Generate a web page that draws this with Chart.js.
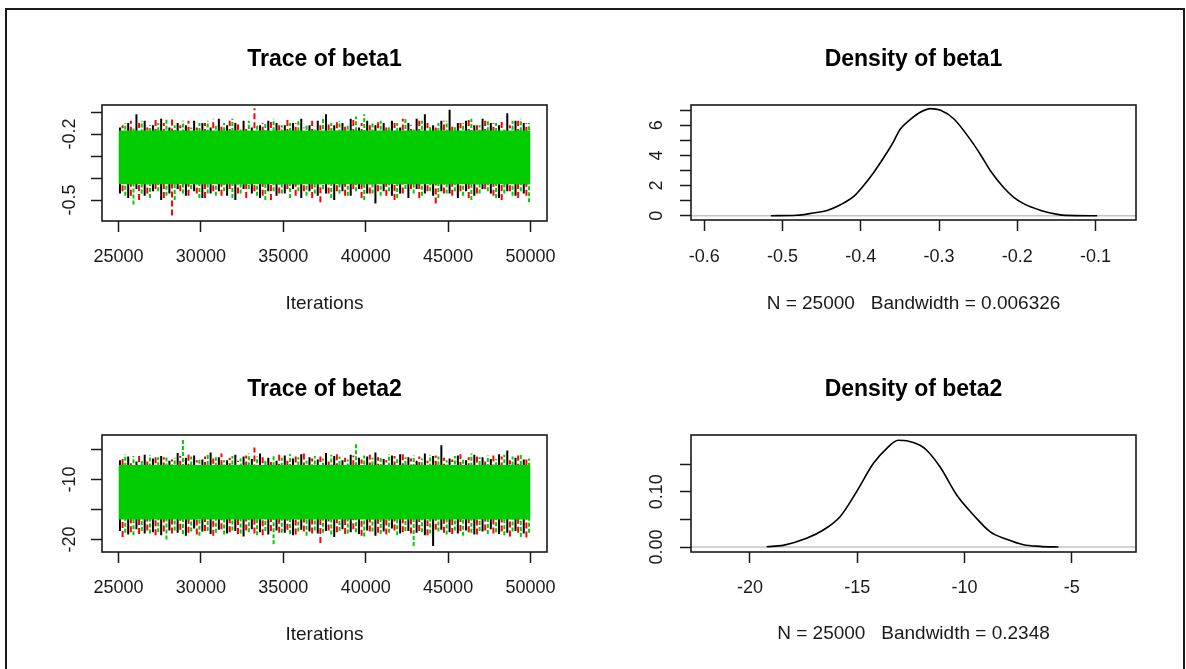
<!DOCTYPE html>
<html>
<head>
<meta charset="utf-8">
<title>MCMC trace and density plots</title>
<script src="https://cdn.jsdelivr.net/npm/chart.js@4"></script>
<style>
  html, body { margin: 0; padding: 0; background: #fff; overflow: hidden; width: 1186px; height: 669px; }
  #frame { position: absolute; left: 5px; top: 8px; width: 1180px; height: 700px; box-sizing: border-box;
           border: 2px solid #1a1a1a; border-bottom: none; }
  canvas { position: absolute; }
</style>
</head>
<body>
<div id="frame"></div>
<canvas id="traceBeta1"></canvas>
<canvas id="densBeta1"></canvas>
<canvas id="traceBeta2"></canvas>
<canvas id="densBeta2"></canvas>
<script>
// ---------------- data ----------------
const iterRange = [25000, 50000];          // kept iterations (after burn-in)
const binWidth = 500;                      // iterations per spike bin
const traceXTicks = [25000, 30000, 35000, 40000, 45000, 50000];
const traceXLabels = ['25000', '30000', '35000', '40000', '45000', '50000'];

// beta1: dense core of the three chains, then per-bin extremes for each chain
const beta1Core = [-0.428, -0.184];
const beta1BlackHigh = [-0.17,-0.15,-0.11,-0.14,-0.16,-0.13,-0.17,-0.15,-0.16,-0.14,
                        -0.15,-0.17,-0.13,-0.16,-0.15,-0.14,-0.17,-0.16,-0.14,-0.15,
                        -0.16,-0.15,-0.13,-0.16,-0.14,-0.11,-0.16,-0.15,-0.13,-0.17,
                        -0.14,-0.16,-0.15,-0.14,-0.17,-0.15,-0.13,-0.11,-0.16,-0.14,
                        -0.09,-0.15,-0.14,-0.16,-0.13,-0.15,-0.16,-0.105,-0.14,-0.15];
const beta1BlackLow  = [-0.47,-0.49,-0.45,-0.48,-0.46,-0.50,-0.47,-0.45,-0.48,-0.46,
                        -0.49,-0.47,-0.46,-0.48,-0.50,-0.45,-0.47,-0.49,-0.46,-0.48,
                        -0.47,-0.45,-0.49,-0.46,-0.48,-0.47,-0.50,-0.46,-0.48,-0.45,
                        -0.47,-0.515,-0.46,-0.48,-0.47,-0.49,-0.45,-0.47,-0.48,-0.46,
                        -0.47,-0.49,-0.46,-0.48,-0.45,-0.47,-0.49,-0.46,-0.48,-0.47];
const beta1RedHigh   = [-0.16,-0.14,-0.15,-0.17,-0.13,-0.15,-0.12,-0.16,-0.14,-0.17,
                        -0.15,-0.13,-0.16,-0.14,-0.15,-0.17,-0.083,-0.15,-0.14,-0.16,
                        -0.13,-0.15,-0.17,-0.14,-0.16,-0.15,-0.14,-0.16,-0.13,-0.15,
                        -0.16,-0.14,-0.17,-0.15,-0.13,-0.16,-0.14,-0.15,-0.17,-0.14,
                        -0.16,-0.15,-0.13,-0.16,-0.14,-0.15,-0.13,-0.16,-0.14,-0.15];
const beta1RedLow    = [-0.46,-0.48,-0.50,-0.47,-0.45,-0.49,-0.57,-0.46,-0.48,-0.47,
                        -0.49,-0.46,-0.48,-0.45,-0.47,-0.49,-0.46,-0.48,-0.50,-0.47,
                        -0.45,-0.48,-0.46,-0.49,-0.51,-0.47,-0.46,-0.48,-0.45,-0.49,
                        -0.47,-0.46,-0.48,-0.50,-0.47,-0.45,-0.49,-0.46,-0.515,-0.47,
                        -0.48,-0.46,-0.49,-0.47,-0.45,-0.48,-0.50,-0.46,-0.49,-0.48];
const beta1GreenHigh = [-0.15,-0.17,-0.14,-0.16,-0.15,-0.13,-0.16,-0.14,-0.17,-0.15,
                        -0.14,-0.16,-0.15,-0.13,-0.17,-0.14,-0.16,-0.15,-0.13,-0.16,
                        -0.15,-0.14,-0.16,-0.17,-0.13,-0.15,-0.14,-0.16,-0.12,-0.11,
                        -0.15,-0.14,-0.16,-0.15,-0.13,-0.17,-0.14,-0.16,-0.15,-0.14,
                        -0.16,-0.15,-0.13,-0.16,-0.14,-0.15,-0.17,-0.14,-0.13,-0.15];
const beta1GreenLow  = [-0.48,-0.52,-0.47,-0.49,-0.46,-0.48,-0.50,-0.47,-0.45,-0.49,
                        -0.47,-0.48,-0.46,-0.49,-0.47,-0.45,-0.48,-0.50,-0.46,-0.47,
                        -0.49,-0.46,-0.48,-0.47,-0.45,-0.49,-0.47,-0.48,-0.46,-0.50,
                        -0.47,-0.48,-0.46,-0.49,-0.45,-0.47,-0.48,-0.46,-0.49,-0.47,
                        -0.46,-0.48,-0.50,-0.47,-0.46,-0.49,-0.47,-0.48,-0.46,-0.51];
const beta1TraceYTicks  = [-0.5, -0.4, -0.3, -0.2, -0.1];
const beta1TraceYLabels = ['-0.5', '', '', '-0.2', ''];

// beta2
const beta2Core = [-16.7, -7.6];
const beta2BlackHigh = [-6.8,-6.2,-7.0,-5.9,-6.5,-6.1,-6.9,-5.6,-6.4,-6.0,
                        -6.7,-5.5,-6.3,-6.8,-5.9,-6.2,-6.6,-5.7,-6.4,-6.9,
                        -6.0,-6.5,-5.8,-6.3,-6.7,-5.6,-6.1,-6.8,-5.9,-6.4,
                        -6.2,-5.5,-6.6,-6.0,-5.8,-6.3,-6.9,-5.7,-6.1,-4.3,
                        -6.5,-6.0,-6.8,-5.9,-6.3,-6.6,-5.8,-5.2,-6.4,-6.7];
const beta2BlackLow  = [-18.6,-19.2,-18.3,-19.0,-18.8,-19.3,-18.5,-18.9,-19.4,-18.2,
                        -18.7,-19.1,-18.4,-19.0,-18.6,-19.5,-18.3,-18.8,-19.2,-18.5,
                        -18.9,-19.3,-18.4,-18.7,-19.0,-18.6,-19.6,-18.3,-18.8,-19.1,
                        -18.5,-19.4,-18.7,-18.2,-19.0,-18.6,-18.9,-19.3,-21.1,-18.4,
                        -18.8,-19.0,-18.5,-19.2,-18.7,-18.3,-19.1,-18.9,-18.6,-19.0];
const beta2RedHigh   = [-6.5,-6.9,-6.0,-6.6,-5.8,-6.3,-6.7,-6.1,-5.9,-6.8,
                        -6.2,-6.5,-5.7,-6.4,-6.9,-6.0,-4.7,-6.3,-6.6,-5.9,
                        -6.8,-6.1,-5.6,-6.5,-6.2,-6.9,-5.8,-6.4,-6.0,-6.7,
                        -5.9,-6.3,-6.8,-6.1,-5.7,-6.5,-6.2,-6.9,-6.0,-6.4,
                        -6.7,-5.8,-6.3,-6.1,-6.6,-5.5,-6.2,-6.8,-6.0,-6.4];
const beta2RedLow    = [-19.6,-18.8,-19.1,-18.5,-19.3,-18.7,-19.0,-18.4,-18.9,-19.2,
                        -18.6,-19.4,-18.3,-18.8,-19.1,-18.5,-19.0,-19.3,-18.6,-18.9,
                        -18.4,-19.2,-18.7,-19.0,-20.6,-18.5,-18.8,-19.1,-18.3,-19.4,
                        -18.7,-18.9,-19.2,-18.5,-18.8,-19.0,-18.6,-19.3,-18.4,-18.9,
                        -19.1,-18.6,-18.8,-19.2,-18.5,-19.0,-18.7,-19.5,-18.9,-19.7];
const beta2GreenHigh = [-5.8,-6.1,-6.6,-5.9,-6.3,-6.0,-6.4,-3.4,-6.2,-6.7,
                        -5.9,-6.3,-6.8,-6.1,-6.5,-5.7,-6.2,-6.6,-6.0,-6.4,
                        -5.8,-6.3,-6.9,-6.1,-6.5,-5.9,-6.2,-6.7,-4.1,-6.0,
                        -6.4,-6.1,-5.8,-6.6,-6.3,-6.0,-6.5,-5.9,-6.2,-6.8,
                        -6.1,-6.4,-5.7,-6.3,-6.0,-6.6,-5.9,-6.2,-5.6,-6.5];
const beta2GreenLow  = [-18.9,-19.3,-18.6,-19.0,-18.8,-20.0,-18.5,-19.1,-18.7,-19.4,
                        -18.6,-18.9,-19.2,-18.5,-19.0,-18.8,-19.3,-18.6,-20.8,-18.9,
                        -19.1,-18.7,-19.4,-18.5,-18.9,-19.2,-18.6,-19.0,-18.8,-19.5,
                        -18.7,-19.1,-18.9,-19.3,-18.6,-21.1,-18.8,-19.0,-18.7,-19.2,
                        -18.5,-19.4,-18.9,-18.6,-19.1,-18.8,-19.3,-18.7,-19.6,-18.9];
const beta2TraceYTicks  = [-20, -15, -10, -5];
const beta2TraceYLabels = ['-20', '', '-10', ''];

// kernel density estimates
const beta1DensX = [-0.515,-0.482,-0.461,-0.443,-0.426,-0.409,-0.399,-0.384,-0.367,-0.358,-0.350,-0.337,-0.324,
                    -0.311,-0.298,-0.281,-0.260,-0.247,-0.234,-0.217,-0.205,-0.192,-0.170,-0.149,-0.138,-0.098];
const beta1DensY = [0,0.03,0.18,0.35,0.73,1.28,1.84,2.84,4.16,4.94,5.72,6.38,6.87,
                    7.11,7.00,6.42,5.05,4.05,2.95,1.84,1.24,0.80,0.35,0.09,0.02,0];
const beta1DensXTicks  = [-0.6, -0.5, -0.4, -0.3, -0.2, -0.1];
const beta1DensXLabels = ['-0.6', '-0.5', '-0.4', '-0.3', '-0.2', '-0.1'];
const beta1DensYTicks  = [0, 1, 2, 3, 4, 5, 6, 7];
const beta1DensYLabels = ['0', '', '2', '', '4', '', '6', ''];

const beta2DensX = [-19.22,-18.45,-17.36,-16.58,-15.80,-15.03,-14.25,-13.63,-13.08,-12.69,
                    -12.07,-11.76,-11.14,-10.36,-9.58,-8.81,-8.03,-7.25,-6.48,-5.62];
const beta2DensY = [0.0006,0.003,0.0157,0.0307,0.0548,0.100,0.151,0.178,0.193,0.192,
                    0.184,0.175,0.145,0.094,0.058,0.028,0.014,0.0042,0.0012,0];
const beta2DensXTicks  = [-20, -15, -10, -5];
const beta2DensXLabels = ['-20', '-15', '-10', '-5'];
const beta2DensYTicks  = [0, 0.05, 0.10, 0.15];
const beta2DensYLabels = ['0.00', '', '0.10', ''];

// ---------------- drawing ----------------
const FONT = "'Liberation Sans', Arial, Helvetica, sans-serif";
const TITLE_SIZE = 23, TICK_SIZE = 18, LAB_SIZE = 19;
const MARGIN = 48, TICK_LEN = 11;
const INK = '#1a1a1a';
const GREEN = '#00cd00', RED = '#ff0000', BLACK = '#000000';

const measureCtx = document.createElement('canvas').getContext('2d');
function textWidth(str, size) {
  measureCtx.font = size + 'px ' + FONT;
  return measureCtx.measureText(str).width;
}

// plot frame drawn over the data, like box() in base graphics
const plotBox = {
  id: 'plotBox',
  afterDatasetsDraw(chart) {
    const { ctx, chartArea: a } = chart;
    ctx.save();
    ctx.strokeStyle = INK;
    ctx.lineWidth = 1.6;
    ctx.strokeRect(a.left, a.top, a.right - a.left, a.bottom - a.top);
    ctx.restore();
  }
};

// one vertical segment per bin, from the chain's low to its high
function spikes(high, low, offset) {
  const pts = [];
  high.forEach((h, i) => {
    const it = iterRange[0] + i * binWidth + offset;
    pts.push({ x: it, y: low[i] }, { x: it, y: h }, { x: it, y: null });
  });
  return pts;
}

function curve(xs, ys) { return xs.map((x, i) => ({ x: x, y: ys[i] })); }

function panel(id, L, spec) {
  const canvas = document.getElementById(id);
  const lhTitle = TITLE_SIZE * 1.2, lhTick = TICK_SIZE * 1.2, lhLab = LAB_SIZE * 1.2;
  const cTop = Math.round(L.titleY - lhTitle / 2);
  const cBottom = Math.round(L.labY + 18);
  const cLeft = L.left - MARGIN;
  const cW = L.right - L.left + 2 * MARGIN;
  const cH = cBottom - cTop;
  canvas.width = cW; canvas.height = cH;
  canvas.style.left = cLeft + 'px'; canvas.style.top = cTop + 'px';
  canvas.style.width = cW + 'px'; canvas.style.height = cH + 'px';

  const xAxisH = cBottom - L.bottom;
  const xTickPad = L.tickY - L.bottom - TICK_LEN - lhTick / 2;
  const xTitlePad = cBottom - L.labY - lhLab / 2;
  const widest = Math.max(...spec.yLabels.map(s => textWidth(s, TICK_SIZE)));
  const yTickPad = L.left - L.yLabX - TICK_LEN - widest / 2;

  const tickGrid = { display: true, drawOnChartArea: false, drawTicks: true,
                     tickLength: TICK_LEN, tickColor: INK, tickWidth: 1.5 };

  new Chart(canvas, {
    type: 'line',
    data: { datasets: spec.datasets },
    plugins: [plotBox],
    options: {
      responsive: false, maintainAspectRatio: false, animation: false,
      layout: { padding: 0 },
      elements: { point: { radius: 0, hoverRadius: 0 } },
      plugins: {
        legend: { display: false }, tooltip: { enabled: false },
        title: { display: true, text: spec.title, color: '#000',
                 font: { family: FONT, size: TITLE_SIZE, weight: 'bold' },
                 padding: { top: 0, bottom: L.top - cTop - lhTitle } }
      },
      scales: {
        x: {
          type: 'linear', position: 'bottom', min: spec.xRange[0], max: spec.xRange[1],
          afterBuildTicks: s => { s.ticks = spec.xTicks.map(v => ({ value: v })); },
          afterFit: s => { s.height = xAxisH; s.paddingLeft = 0; s.paddingRight = 0; },
          grid: tickGrid, border: { display: false },
          ticks: { autoSkip: false, minRotation: 0, maxRotation: 0, padding: xTickPad, color: INK,
                   font: { family: FONT, size: TICK_SIZE }, callback: (v, i) => spec.xLabels[i] },
          title: { display: true, text: spec.xTitle, color: INK,
                   font: { family: FONT, size: LAB_SIZE }, padding: { top: 0, bottom: xTitlePad } }
        },
        y: {
          type: 'linear', position: 'left', min: spec.yRange[0], max: spec.yRange[1],
          afterBuildTicks: s => { s.ticks = spec.yTicks.map(v => ({ value: v })); },
          afterFit: s => { s.width = MARGIN; s.paddingTop = 0; s.paddingBottom = 0; },
          grid: tickGrid, border: { display: false },
          ticks: { autoSkip: false, minRotation: 90, maxRotation: 90, crossAlign: 'center',
                   padding: yTickPad, color: INK, font: { family: FONT, size: TICK_SIZE },
                   callback: (v, i) => spec.yLabels[i] }
        },
        yRight: {
          type: 'linear', position: 'right', display: true,
          afterFit: s => { s.width = MARGIN; },
          grid: { display: false }, border: { display: false }, ticks: { display: false }
        }
      }
    }
  });
}

function traceSets(core, kH, kL, rH, rL, gH, gL) {
  // first listed is drawn on top: green chain last-plotted, as in the sampler output
  return [
    { data: spikes(gH, gL, 410), borderColor: GREEN, borderWidth: 2, borderDash: [4, 2], spanGaps: false, tension: 0 },
    { data: [{ x: iterRange[0], y: core[1] }, { x: iterRange[1], y: core[1] }],
      borderColor: 'rgba(0,0,0,0)', borderWidth: 1, backgroundColor: GREEN, fill: { value: core[0] } },
    { data: spikes(rH, rL, 250), borderColor: RED, borderWidth: 2, borderDash: [6, 3], spanGaps: false, tension: 0 },
    { data: spikes(kH, kL, 90), borderColor: BLACK, borderWidth: 2, spanGaps: false, tension: 0 }
  ];
}

function densSets(xs, ys, range) {
  return [
    { data: curve(xs, ys), borderColor: BLACK, borderWidth: 1.6, cubicInterpolationMode: 'monotone' },
    { data: [{ x: range[0], y: 0 }, { x: range[1], y: 0 }], borderColor: '#c4c4c4', borderWidth: 1.6 }
  ];
}

panel('traceBeta1',
  { left: 102, top: 105, right: 547, bottom: 221, titleY: 60, tickY: 256.7, labY: 303.3, yLabX: 70 },
  { title: 'Trace of beta1', xTitle: 'Iterations',
    xRange: [24000, 51000], yRange: [-0.595, -0.068],
    xTicks: traceXTicks, xLabels: traceXLabels, yTicks: beta1TraceYTicks, yLabels: beta1TraceYLabels,
    datasets: traceSets(beta1Core, beta1BlackHigh, beta1BlackLow, beta1RedHigh, beta1RedLow, beta1GreenHigh, beta1GreenLow) });

panel('densBeta1',
  { left: 691, top: 105, right: 1136, bottom: 220, titleY: 60, tickY: 256.7, labY: 303.3, yLabX: 656.7 },
  { title: 'Density of beta1', xTitle: 'N = 25000   Bandwidth = 0.006326',
    xRange: [-0.617, -0.0484], yRange: [-0.285, 7.35],
    xTicks: beta1DensXTicks, xLabels: beta1DensXLabels, yTicks: beta1DensYTicks, yLabels: beta1DensYLabels,
    datasets: densSets(beta1DensX, beta1DensY, [-0.617, -0.0484]) });

panel('traceBeta2',
  { left: 102, top: 435, right: 547, bottom: 552, titleY: 390, tickY: 588.3, labY: 634.5, yLabX: 70 },
  { title: 'Trace of beta2', xTitle: 'Iterations',
    xRange: [24000, 51000], yRange: [-22.1, -2.6],
    xTicks: traceXTicks, xLabels: traceXLabels, yTicks: beta2TraceYTicks, yLabels: beta2TraceYLabels,
    datasets: traceSets(beta2Core, beta2BlackHigh, beta2BlackLow, beta2RedHigh, beta2RedLow, beta2GreenHigh, beta2GreenLow) });

panel('densBeta2',
  { left: 691, top: 435, right: 1136, bottom: 552, titleY: 390, tickY: 588.3, labY: 633.5, yLabX: 656.7 },
  { title: 'Density of beta2', xTitle: 'N = 25000   Bandwidth = 0.2348',
    xRange: [-22.75, -2.0], yRange: [-0.009, 0.2025],
    xTicks: beta2DensXTicks, xLabels: beta2DensXLabels, yTicks: beta2DensYTicks, yLabels: beta2DensYLabels,
    datasets: densSets(beta2DensX, beta2DensY, [-22.75, -2.0]) });
</script>
</body>
</html>
